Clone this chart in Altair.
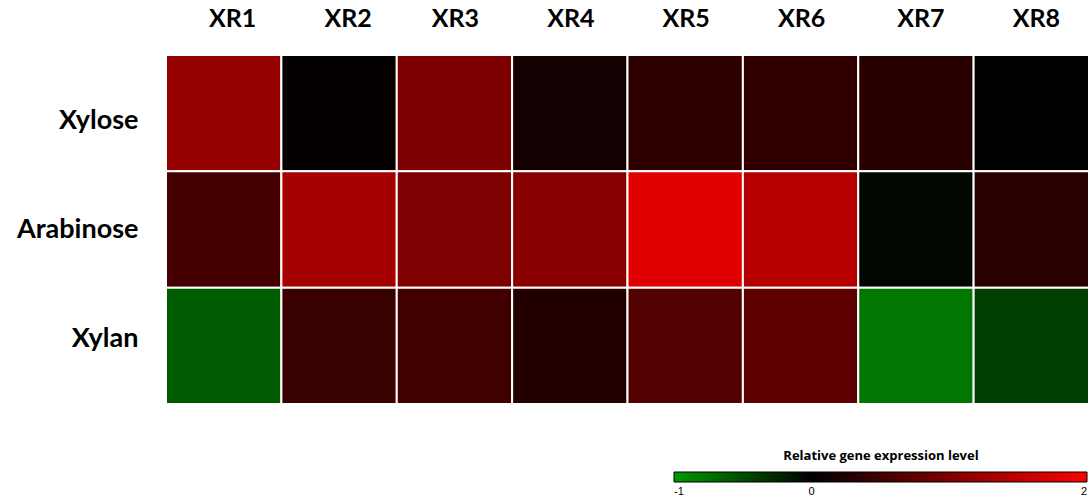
import altair as alt
import pandas as pd

# Relative expression of the eight xylose reductase genes under each carbon source
genes = ["XR1", "XR2", "XR3", "XR4", "XR5", "XR6", "XR7", "XR8"]
conditions = ["Xylose", "Arabinose", "Xylan"]
xylose = [1.17, 0.03, 0.97, 0.16, 0.36, 0.38, 0.31, 0.00]
arabinose = [0.53, 1.29, 0.99, 1.07, 1.76, 1.43, -0.05, 0.33]
xylan = [-0.60, 0.45, 0.50, 0.27, 0.64, 0.74, -0.78, -0.41]

rows = []
for cond, vals in zip(conditions, [xylose, arabinose, xylan]):
    for g, v in zip(genes, vals):
        rows.append({"gene": g, "condition": cond, "level": v})
df = pd.DataFrame(rows)

color_scale = alt.Scale(
    domain=[-1, 0, 2],
    range=["#009900", "#000000", "#ff0000"],
    interpolate="rgb",
)

heat = alt.Chart(df).mark_rect(stroke="white", strokeWidth=2).encode(
    x=alt.X(
        "gene:N",
        sort=genes,
        title=None,
        axis=alt.Axis(
            orient="top", labelAngle=0, ticks=False, domain=False,
            labelFont="Lato", labelFontWeight="bold", labelFontSize=25,
            labelColor="black", labelPadding=24,
            labelOffset={"expr": "indexof(['XR1','XR2'], datum.value) >= 0 ? 9 : (indexof(['XR7','XR8'], datum.value) >= 0 ? 5 : 1)"},
        ),
        scale=alt.Scale(paddingInner=0, paddingOuter=0),
    ),
    y=alt.Y(
        "condition:N",
        sort=conditions,
        title=None,
        axis=alt.Axis(
            ticks=False, domain=False,
            labelFont="Lato", labelFontWeight="bold", labelFontSize=27,
            labelColor="black", labelPadding=28,
            labelOffset={"expr": "datum.value == 'Xylose' ? 8 : (datum.value == 'Xylan' ? -7 : 0)"},
        ),
        scale=alt.Scale(paddingInner=0, paddingOuter=0),
    ),
    color=alt.Color(
        "level:Q",
        scale=color_scale,
        legend=alt.Legend(
            title="Relative gene expression level",
            orient="none",
            direction="horizontal",
            legendX=508,
            legendY=395,
            gradientLength=413,
            gradientThickness=10,
            gradientStrokeColor="black",
            gradientStrokeWidth=1,
            values=[-1, 0, 2],
            labelExpr="toString(datum.value)",
            titleFont="Open Sans",
            titleFontSize=13,
            titleFontWeight="bold",
            titleColor="black",
            titleAnchor="middle",
            titleLimit=500,
            titlePadding=9,
            labelFont="Liberation Sans",
            labelFontSize=11,
            labelColor="black",
            labelOffset=4,
        ),
    ),
)

chart = heat.properties(
    width=923,
    height=349,
    autosize=alt.AutoSizeParams(type="none"),
    padding={"left": 166, "top": 55, "right": 0, "bottom": 94},
).configure_view(stroke=None)

chart.save("out.html", embed_options={"renderer": "svg", "actions": False})
